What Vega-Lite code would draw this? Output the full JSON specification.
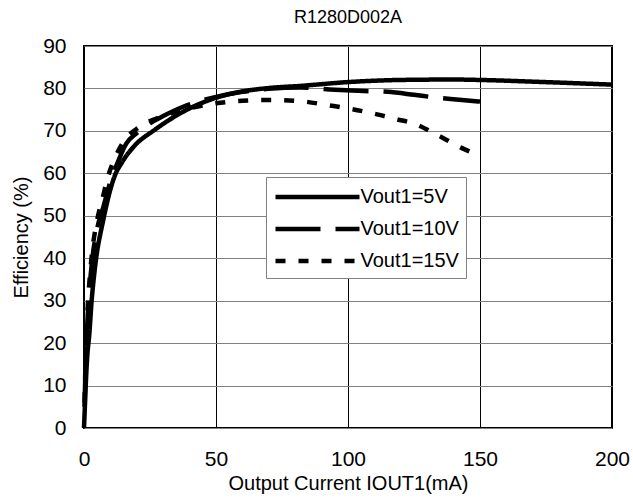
{
  "$schema": "https://vega.github.io/schema/vega-lite/v6.json",
  "width": 528,
  "height": 382,
  "autosize": {"type": "none"},
  "padding": {"left": 84, "top": 46, "right": 21, "bottom": 74},
  "background": "white",
  "config": {
    "view": {"stroke": "black", "strokeWidth": 2},
    "font": "Liberation Sans"
  },
  "title": {
    "text": "R1280D002A",
    "fontSize": 18,
    "font": "Liberation Sans",
    "fontWeight": "normal",
    "color": "black",
    "frame": "group",
    "anchor": "middle",
    "offset": 8
  },
  "data": {
    "values": [
      {"series": "Vout1=5V", "x": 0, "y": 0},
      {"series": "Vout1=5V", "x": 0.4, "y": 6},
      {"series": "Vout1=5V", "x": 0.8, "y": 12},
      {"series": "Vout1=5V", "x": 1.25, "y": 17},
      {"series": "Vout1=5V", "x": 2, "y": 22},
      {"series": "Vout1=5V", "x": 2.9, "y": 30},
      {"series": "Vout1=5V", "x": 4.2, "y": 38},
      {"series": "Vout1=5V", "x": 7.3, "y": 49},
      {"series": "Vout1=5V", "x": 11.7, "y": 59.5},
      {"series": "Vout1=5V", "x": 14.3, "y": 62.5},
      {"series": "Vout1=5V", "x": 18.7, "y": 66.2},
      {"series": "Vout1=5V", "x": 26.9, "y": 70.3},
      {"series": "Vout1=5V", "x": 40, "y": 75.3},
      {"series": "Vout1=5V", "x": 50, "y": 77.8},
      {"series": "Vout1=5V", "x": 60, "y": 79.3},
      {"series": "Vout1=5V", "x": 70, "y": 80.1},
      {"series": "Vout1=5V", "x": 82, "y": 80.6},
      {"series": "Vout1=5V", "x": 100, "y": 81.5},
      {"series": "Vout1=5V", "x": 120, "y": 82},
      {"series": "Vout1=5V", "x": 140, "y": 82.1},
      {"series": "Vout1=5V", "x": 150, "y": 82},
      {"series": "Vout1=5V", "x": 170, "y": 81.6},
      {"series": "Vout1=5V", "x": 200, "y": 80.9},
      {"series": "Vout1=10V", "x": 0.2, "y": 5},
      {"series": "Vout1=10V", "x": 0.6, "y": 15},
      {"series": "Vout1=10V", "x": 1.2, "y": 24},
      {"series": "Vout1=10V", "x": 2, "y": 32},
      {"series": "Vout1=10V", "x": 3, "y": 39},
      {"series": "Vout1=10V", "x": 5, "y": 47},
      {"series": "Vout1=10V", "x": 7.3, "y": 52},
      {"series": "Vout1=10V", "x": 10, "y": 58},
      {"series": "Vout1=10V", "x": 12.4, "y": 62},
      {"series": "Vout1=10V", "x": 16, "y": 67},
      {"series": "Vout1=10V", "x": 20, "y": 69.5},
      {"series": "Vout1=10V", "x": 25, "y": 71.8},
      {"series": "Vout1=10V", "x": 30, "y": 73.5},
      {"series": "Vout1=10V", "x": 38, "y": 75.8},
      {"series": "Vout1=10V", "x": 50, "y": 78},
      {"series": "Vout1=10V", "x": 60, "y": 79.2},
      {"series": "Vout1=10V", "x": 70, "y": 79.9},
      {"series": "Vout1=10V", "x": 82, "y": 80.2},
      {"series": "Vout1=10V", "x": 95, "y": 79.7},
      {"series": "Vout1=10V", "x": 106, "y": 79.4},
      {"series": "Vout1=10V", "x": 115, "y": 79.2},
      {"series": "Vout1=10V", "x": 125, "y": 78.5},
      {"series": "Vout1=10V", "x": 134, "y": 77.8},
      {"series": "Vout1=10V", "x": 141, "y": 77.4},
      {"series": "Vout1=10V", "x": 150, "y": 76.9},
      {"series": "Vout1=15V", "x": 0.2, "y": 6},
      {"series": "Vout1=15V", "x": 0.6, "y": 16},
      {"series": "Vout1=15V", "x": 1.2, "y": 26},
      {"series": "Vout1=15V", "x": 2, "y": 34},
      {"series": "Vout1=15V", "x": 3, "y": 41},
      {"series": "Vout1=15V", "x": 5, "y": 49},
      {"series": "Vout1=15V", "x": 7, "y": 54},
      {"series": "Vout1=15V", "x": 9, "y": 59},
      {"series": "Vout1=15V", "x": 12, "y": 64},
      {"series": "Vout1=15V", "x": 15, "y": 67.5},
      {"series": "Vout1=15V", "x": 20, "y": 70.5},
      {"series": "Vout1=15V", "x": 25, "y": 72.3},
      {"series": "Vout1=15V", "x": 30, "y": 73.5},
      {"series": "Vout1=15V", "x": 40, "y": 75.3},
      {"series": "Vout1=15V", "x": 50, "y": 76.5},
      {"series": "Vout1=15V", "x": 60, "y": 77.1},
      {"series": "Vout1=15V", "x": 70, "y": 77.3},
      {"series": "Vout1=15V", "x": 82, "y": 77},
      {"series": "Vout1=15V", "x": 93, "y": 76},
      {"series": "Vout1=15V", "x": 101, "y": 75.2},
      {"series": "Vout1=15V", "x": 111, "y": 73.9},
      {"series": "Vout1=15V", "x": 118, "y": 72.8},
      {"series": "Vout1=15V", "x": 126, "y": 71.5},
      {"series": "Vout1=15V", "x": 132, "y": 69.6},
      {"series": "Vout1=15V", "x": 137, "y": 68},
      {"series": "Vout1=15V", "x": 143, "y": 66},
      {"series": "Vout1=15V", "x": 150, "y": 64.2}
    ]
  },
  "mark": {"type": "line", "stroke": "black", "strokeWidth": 4.5, "interpolate": "monotone", "strokeCap": "butt"},
  "encoding": {
    "x": {
      "field": "x",
      "type": "quantitative",
      "scale": {"domain": [0, 200], "nice": false},
      "axis": {
        "values": [0, 50, 100, 150, 200],
        "grid": true,
        "gridColor": "#000000",
        "gridWidth": 1,
        "gridOpacity": 1,
        "domain": false,
        "ticks": false,
        "labelFlush": false,
        "labelOverlap": false,
        "labelFontSize": 21,
        "labelFont": "Liberation Sans",
        "labelColor": "black",
        "labelPadding": 20,
        "title": "Output Current IOUT1(mA)",
        "titleFont": "Liberation Sans",
        "titleFontSize": 20,
        "titleFontWeight": "normal",
        "titleColor": "black",
        "titleY": 45,
        "titleBaseline": "top"
      }
    },
    "y": {
      "field": "y",
      "type": "quantitative",
      "scale": {"domain": [0, 90], "nice": false},
      "axis": {
        "values": [0, 10, 20, 30, 40, 50, 60, 70, 80, 90],
        "grid": true,
        "gridColor": "#808080",
        "gridWidth": 1,
        "gridOpacity": 1,
        "domain": false,
        "ticks": false,
        "labelFlush": false,
        "labelOverlap": false,
        "labelFontSize": 21,
        "labelFont": "Liberation Sans",
        "labelColor": "black",
        "labelPadding": 18,
        "title": "Efficiency (%)",
        "titleFont": "Liberation Sans",
        "titleFontSize": 20,
        "titleFontWeight": "normal",
        "titleColor": "black",
        "titleX": -57,
        "titleY": 191,
        "titleAngle": -90,
        "titleAlign": "center",
        "titleBaseline": "alphabetic"
      }
    },
    "strokeDash": {
      "field": "series",
      "type": "nominal",
      "scale": {
        "domain": ["Vout1=5V", "Vout1=10V", "Vout1=15V"],
        "range": [[1, 0], [45, 15], [10, 13]]
      },
      "legend": {
        "orient": "none",
        "legendX": 182,
        "legendY": 131,
        "title": null,
        "symbolType": "M-4,0H4",
        "symbolSize": 441,
        "symbolStrokeWidth": 4.5,
        "symbolStrokeColor": "black",
        "symbolOffset": 31.5,
        "labelOffset": 30,
        "labelFontSize": 20,
        "labelFont": "Liberation Sans",
        "labelColor": "black",
        "labelLimit": 300,
        "padding": 7,
        "rowPadding": 9,
        "strokeColor": "#808080",
        "fillColor": "white"
      }
    }
  }
}
